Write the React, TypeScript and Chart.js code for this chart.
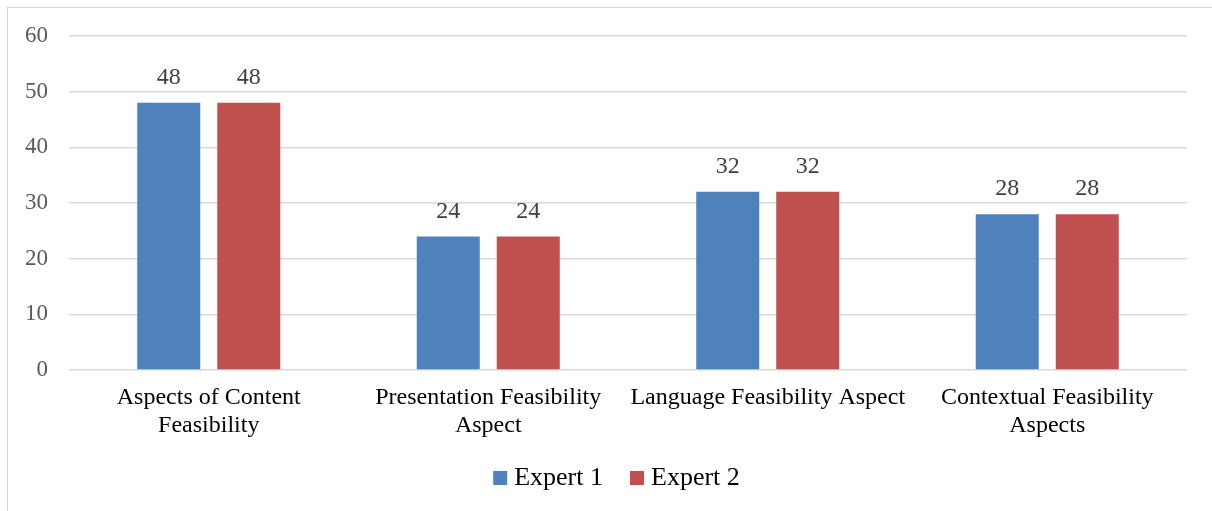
import React, { useEffect, useRef } from "react";
import { Chart, registerables } from "chart.js";

Chart.register(...registerables);

const categories: (string | string[])[] = [
  ["Aspects of Content", "Feasibility"],
  ["Presentation Feasibility", "Aspect"],
  "Language Feasibility Aspect",
  ["Contextual Feasibility", "Aspects"],
];
const expert1 = [48, 24, 32, 28];
const expert2 = [48, 24, 32, 28];
const seriesNames = ["Expert 1", "Expert 2"];
const yTicks = [0, 10, 20, 30, 40, 50, 60];

const FONT = "'Liberation Serif', 'Times New Roman', serif";
const CANVAS_W = 1236;
const CANVAS_H = 503;

// Writes each bar's value just above it
const valueLabels = {
  id: "valueLabels",
  afterDatasetsDraw(chart: any) {
    const ctx = chart.ctx;
    ctx.save();
    ctx.font = `24px ${FONT}`;
    ctx.fillStyle = "#404040";
    ctx.textAlign = "center";
    ctx.textBaseline = "middle";
    chart.data.datasets.forEach((ds: any, i: number) => {
      const meta = chart.getDatasetMeta(i);
      meta.data.forEach((bar: any, j: number) => {
        ctx.fillText(String(ds.data[j]), bar.x, bar.y - 25);
      });
    });
    ctx.restore();
  },
};

export default function App() {
  const ref = useRef<HTMLCanvasElement>(null);

  useEffect(() => {
    if (!ref.current) return;
    const chart = new Chart(ref.current, {
      type: "bar",
      data: {
        labels: categories,
        datasets: [
          {
            label: seriesNames[0],
            data: expert1,
            backgroundColor: "#4F81BD",
            borderWidth: 0,
            categoryPercentage: 0.5725,
            barPercentage: 0.7875,
          },
          {
            label: seriesNames[1],
            data: expert2,
            backgroundColor: "#C0504D",
            borderWidth: 0,
            categoryPercentage: 0.5725,
            barPercentage: 0.7875,
          },
        ],
      },
      options: {
        responsive: false,
        animation: false,
        layout: { padding: { top: 28, right: 0, bottom: 10, left: 0 } },
        plugins: {
          tooltip: { enabled: false },
          legend: {
            position: "bottom",
            labels: {
              usePointStyle: true,
              pointStyle: "rect",
              boxWidth: 2,
              boxHeight: 14,
              padding: 20,
              color: "#000000",
              font: { family: FONT, size: 26 },
              generateLabels(c: any) {
                // trailing spaces widen the gap between the two entries
                return Chart.defaults.plugins.legend.labels
                  .generateLabels(c)
                  .map((item: any) => ({ ...item, text: item.text + "  " }));
              },
            },
          },
        },
        scales: {
          x: {
            grid: { display: false, drawTicks: false },
            border: { display: false },
            ticks: {
              color: "#000000",
              padding: 14,
              maxRotation: 0,
              autoSkip: false,
              font: { family: FONT, size: 24, lineHeight: 1.15 },
            },
            afterFit(scale: any) {
              scale.height = 75;
            },
          },
          y: {
            min: 0,
            max: 60,
            afterBuildTicks(scale: any) {
              scale.ticks = yTicks.map((v) => ({ value: v }));
            },
            grid: { color: "#d9d9d9", lineWidth: 1.6, drawTicks: false },
            border: { display: false },
            ticks: {
              color: "#595959",
              padding: 21,
              font: { family: FONT, size: 23, lineHeight: 0.6 },
            },
            afterFit(scale: any) {
              scale.width = 61;
            },
          },
          // empty right-hand margin of the plot
          yRight: {
            position: "right",
            display: true,
            grid: { display: false, drawTicks: false },
            border: { display: false },
            ticks: { display: false },
            afterFit(scale: any) {
              scale.width = CANVAS_W - 1179;
            },
          },
        },
      },
      plugins: [valueLabels],
    });
    return () => chart.destroy();
  }, []);

  return (
    <div
      style={{
        position: "fixed",
        left: 7,
        top: 7,
        width: 1205,
        height: 504,
        borderTop: "1px solid #d4d4d4",
        borderLeft: "1px solid #d4d4d4",
        overflow: "hidden",
        background: "#ffffff",
      }}
    >
      <canvas ref={ref} width={CANVAS_W} height={CANVAS_H} style={{ display: "block" }} />
    </div>
  );
}
